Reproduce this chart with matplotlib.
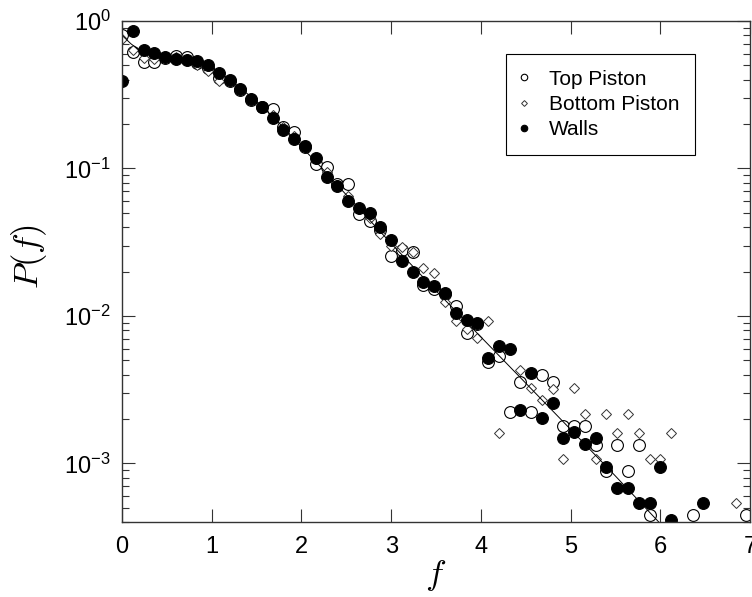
import matplotlib.pyplot as plt
import numpy as np
from matplotlib.ticker import LogLocator, NullFormatter, FuncFormatter

plt.rcParams['font.family'] = ['Liberation Sans', 'DejaVu Sans']
plt.rcParams['mathtext.fontset'] = 'custom'
plt.rcParams['mathtext.rm'] = 'Liberation Sans'

# Top Piston (open circles)
f_top = [0.0, 0.12, 0.24, 0.36, 0.48, 0.60, 0.72, 0.84, 0.96, 1.08, 1.20, 1.32,
         1.44, 1.56, 1.68, 1.80, 1.92, 2.04, 2.16, 2.28, 2.40, 2.52, 2.64, 2.76,
         2.88, 3.00, 3.12, 3.24, 3.36, 3.48, 3.60, 3.72, 3.84, 3.96, 4.08, 4.20,
         4.32, 4.44, 4.56, 4.68, 4.80, 4.92, 5.04, 5.16, 5.28, 5.40, 5.52, 5.64,
         5.76, 5.88, 6.36, 6.96]
p_top = [0.80, 0.62, 0.53, 0.53, 0.56, 0.58, 0.57, 0.52, 0.48, 0.41, 0.39, 0.34,
         0.29, 0.26, 0.255, 0.19, 0.177, 0.14, 0.107, 0.103, 0.078, 0.079, 0.049, 0.0438,
         0.038, 0.0256, 0.028, 0.027, 0.0163, 0.0152, 0.014, 0.0117, 0.0076, 0.0088, 0.0049, 0.00535,
         0.00223, 0.00356, 0.00222, 0.0040, 0.00356, 0.00179, 0.00179, 0.00179, 0.00134, 0.00089, 0.00134, 0.00089,
         0.00134, 0.000443, 0.000443, 0.000443]

# Bottom Piston (open diamonds)
f_bot = [0.0, 0.12, 0.24, 0.36, 0.48, 0.60, 0.72, 0.84, 0.96, 1.08, 1.20, 1.32,
         1.44, 1.56, 1.68, 1.80, 1.92, 2.04, 2.16, 2.28, 2.40, 2.52, 2.64, 2.76,
         2.88, 3.00, 3.12, 3.24, 3.36, 3.48, 3.60, 3.72, 3.84, 3.96, 4.08, 4.20,
         4.44, 4.56, 4.68, 4.80, 4.92, 5.04, 5.16, 5.28, 5.40, 5.52, 5.64, 5.76,
         5.88, 6.00, 6.12, 6.84]
p_bot = [0.75, 0.64, 0.56, 0.55, 0.56, 0.57, 0.55, 0.50, 0.46, 0.39, 0.40, 0.35,
         0.30, 0.26, 0.23, 0.19, 0.165, 0.14, 0.115, 0.095, 0.077, 0.065, 0.053, 0.046,
         0.036, 0.030, 0.0292, 0.027, 0.0211, 0.0194, 0.01245, 0.00925, 0.0082, 0.00705, 0.00925, 0.0016,
         0.0043, 0.00325, 0.00268, 0.00317, 0.00107, 0.00322, 0.00216, 0.00107, 0.00216, 0.0016, 0.00216, 0.0016,
         0.00107, 0.00107, 0.0016, 0.000537]

# Walls (filled circles)
f_wall = [0.0, 0.12, 0.24, 0.36, 0.48, 0.60, 0.72, 0.84, 0.96, 1.08, 1.20, 1.32,
          1.44, 1.56, 1.68, 1.80, 1.92, 2.04, 2.16, 2.28, 2.40, 2.52, 2.64, 2.76,
          2.88, 3.00, 3.12, 3.24, 3.36, 3.48, 3.60, 3.72, 3.84, 3.96, 4.08, 4.20,
          4.32, 4.44, 4.56, 4.68, 4.80, 4.92, 5.04, 5.16, 5.28, 5.40, 5.52, 5.64,
          5.76, 5.88, 6.00, 6.12, 6.48]
p_wall = [0.39, 0.86, 0.64, 0.61, 0.57, 0.55, 0.54, 0.535, 0.50, 0.445, 0.40, 0.348,
          0.298, 0.261, 0.221, 0.183, 0.159, 0.142, 0.117, 0.088, 0.0755, 0.060, 0.054, 0.0497,
          0.040, 0.0327, 0.0237, 0.0197, 0.0171, 0.016, 0.0144, 0.0105, 0.0094, 0.0089, 0.0052, 0.0062,
          0.0060, 0.0023, 0.0041, 0.00203, 0.00257, 0.00149, 0.00163, 0.00135, 0.00149, 0.00095, 0.00068, 0.00068,
          0.000537, 0.000537, 0.00094, 0.000414, 0.000537]

# fit curve
f_fit = [0.0, 0.1, 0.2, 0.3, 0.4, 0.6, 0.8, 1.0, 1.2, 1.4, 1.6, 1.8, 2.0, 2.2,
         2.4, 2.6, 2.8, 3.0, 3.5, 4.0, 4.5, 5.0, 5.5, 6.0]
p_fit = [0.80, 0.70, 0.63, 0.59, 0.57, 0.56, 0.53, 0.48, 0.40, 0.32, 0.25, 0.19, 0.14, 0.105,
         0.077, 0.057, 0.042, 0.031, 0.0148, 0.0072, 0.0035, 0.0017, 0.00082, 0.00039]

fig = plt.figure(figsize=(7.52, 5.97), dpi=100)
ax = fig.add_axes([122 / 752, 1 - 522 / 597, 628 / 752, 501 / 597])

ax.plot(f_top, p_top, 'o', ms=8.5, mfc='white', mec='black', mew=0.8, label='Top Piston')
ax.plot(f_bot, p_bot, 'D', ms=5.4, mfc='white', mec='#333333', mew=0.7, label='Bottom Piston')
ax.plot(f_wall, p_wall, 'o', ms=8.5, mfc='black', mec='black', mew=0.8, label='Walls')
ax.plot(f_fit, p_fit, '-', color='black', lw=0.7)

ax.set_yscale('log')
ax.set_xlim(0, 7)
ax.set_ylim(4e-4, 1)
ax.set_xticks(range(8))
ax.yaxis.set_major_locator(LogLocator(base=10, numticks=10))
ax.yaxis.set_minor_locator(LogLocator(base=10, subs=np.arange(2, 10), numticks=20))
ax.yaxis.set_minor_formatter(NullFormatter())
ax.yaxis.set_major_formatter(FuncFormatter(
    lambda v, pos: r'$\mathregular{10^{%d}}$' % int(round(np.log10(v)))))

ax.tick_params(which='both', direction='in', top=True, right=True, labelsize=17, width=0.8, color='#333333')
ax.tick_params(which='major', length=9.5)
ax.tick_params(which='minor', length=5)
ax.tick_params(axis='x', pad=10)
ax.tick_params(axis='y', pad=8)
for s in ax.spines.values():
    s.set_linewidth(1.0)
    s.set_color('#333333')

ax.set_ylabel('$P(f)$', fontsize=25, math_fontfamily='cm')
ax.yaxis.set_label_coords(-0.117, 0.53)
ax.set_xlabel('$f$', fontsize=25, math_fontfamily='cm', labelpad=0)

leg = ax.legend(loc='upper left', bbox_to_anchor=(506 / 752, 1 - 54 / 597), bbox_transform=fig.transFigure,
                fontsize=15, markerscale=0.55, fancybox=False, framealpha=1, edgecolor='black',
                handlelength=0.2, handletextpad=1.1, labelspacing=0.3, borderpad=0.75, borderaxespad=0)
leg.get_frame().set_linewidth(0.8)

fig.savefig('out.png', dpi=100)
